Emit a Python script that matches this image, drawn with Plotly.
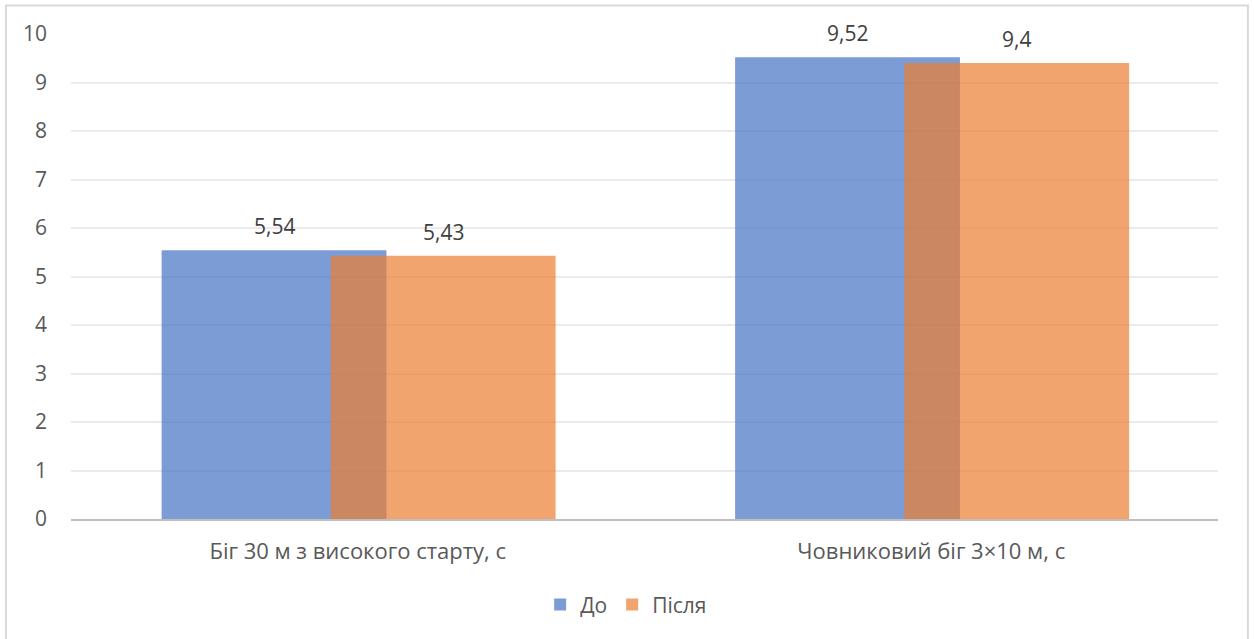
import plotly.graph_objects as go

# Test results before and after the training programme
categories = ["Біг 30 м з високого старту, с", "Човниковий біг 3×10 м, с"]
series_names = ["До", "Після"]
before = [5.54, 9.52]
after = [5.43, 9.4]
y_ticks = list(range(0, 11))

colors = ["rgba(68,114,196,0.7)", "rgba(237,125,49,0.7)"]
bar_width = 0.392
offsets = [-0.342, -0.047]

font_family = "Open Sans, Noto Sans, DejaVu Sans, sans-serif"
fs = 21
positions = list(range(len(categories)))


def fmt(v):
    return f"{v:g}".replace(".", ",")


fig = go.Figure()
annotations = []
for name, vals, color, off in zip(series_names, [before, after], colors, offsets):
    fig.add_trace(go.Bar(
        x=positions, y=vals, name=name,
        width=bar_width, offset=off,
        marker=dict(color=color, line=dict(width=0)),
        hoverinfo="skip",
    ))
    for p, v in zip(positions, vals):
        annotations.append(dict(
            x=p + off + bar_width / 2, y=v, xref="x", yref="y",
            text=fmt(v), showarrow=False, yanchor="bottom", yshift=8,
            font=dict(family=font_family, size=fs, color="#404040"),
        ))

fig.update_layout(
    width=1254, height=639,
    margin=dict(l=71, r=36, t=34, b=120),
    paper_bgcolor="white", plot_bgcolor="white",
    barmode="overlay",
    font=dict(family=font_family, size=fs, color="#595959"),
    showlegend=True,
    legend=dict(
        orientation="h", x=0.484, xanchor="center", y=-0.177, yanchor="middle",
        font=dict(family=font_family, size=fs, color="#595959"),
        itemwidth=30, traceorder="normal",
    ),
    annotations=annotations,
    shapes=[dict(
        type="rect", xref="paper", yref="paper",
        x0=-0.0567, x1=1.0261, y0=-0.3, y1=1.0588,
        line=dict(color="#D9D9D9", width=2), fillcolor="rgba(0,0,0,0)",
        layer="below",
    )],
)

fig.update_xaxes(
    range=[-0.5, 1.5], tickmode="array", tickvals=positions, ticktext=categories,
    showgrid=False, zeroline=False,
    showline=True, linecolor="#BFBFBF", linewidth=2,
    ticks="", ticklabelstandoff=12,
    tickfont=dict(family=font_family, size=22, color="#595959"),
)
fig.update_yaxes(
    range=[0, 10], tickmode="array", tickvals=y_ticks,
    showgrid=True, gridcolor="#EBEBEB", gridwidth=1.5,
    zeroline=False, showline=False, ticks="", ticklabelstandoff=23,
    tickfont=dict(family=font_family, size=fs, color="#595959"),
)

fig.write_html("out.html")
